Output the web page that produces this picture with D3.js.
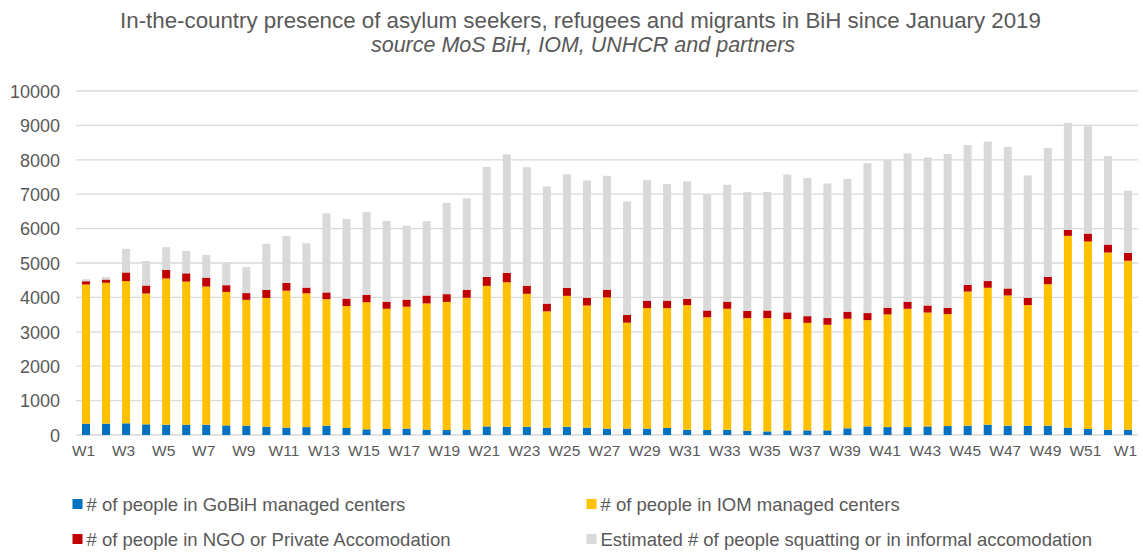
<!DOCTYPE html>
<html><head><meta charset="utf-8">
<script src="https://cdn.jsdelivr.net/npm/d3@7"></script>
<style>body{margin:0;background:#fff;} text{font-family:"Liberation Sans",Arial,sans-serif;}</style>
</head><body><svg id="c" width="1143" height="552"></svg>
<script>
const weeks = ["W1","W2","W3","W4","W5","W6","W7","W8","W9","W10","W11","W12","W13","W14","W15","W16","W17","W18","W19","W20","W21","W22","W23","W24","W25","W26","W27","W28","W29","W30","W31","W32","W33","W34","W35","W36","W37","W38","W39","W40","W41","W42","W43","W44","W45","W46","W47","W48","W49","W50","W51","W52","W1"];
const gobih = [330,330,340,310,300,300,300,280,270,240,215,230,270,205,165,175,185,155,145,155,250,240,240,215,240,215,185,185,185,205,155,145,155,125,105,135,135,135,195,250,230,230,250,260,270,300,270,270,270,215,175,155,155];
const iom = [4045,4095,4135,3805,4250,4160,4015,3880,3660,3745,3980,3890,3680,3545,3695,3495,3545,3670,3725,3835,4085,4200,3865,3380,3805,3550,3815,3080,3505,3485,3620,3280,3515,3275,3295,3235,3125,3070,3185,3090,3275,3440,3310,3255,3900,3980,3785,3505,4115,5575,5450,5150,4910];
const ngo = [95,95,250,230,250,240,260,195,195,230,225,165,195,215,215,205,205,230,225,230,260,270,235,225,235,225,225,225,215,215,185,195,205,205,220,195,195,195,205,205,195,205,205,185,195,195,205,215,215,175,230,230,230];
const informal = [60,70,685,715,660,650,660,660,755,1345,1365,1290,2300,2310,2410,2350,2150,2160,2650,2660,3195,3445,3445,3405,3300,3410,3310,3300,3505,3390,3415,3380,3400,3455,3445,4005,4015,3910,3860,4355,4300,4310,4300,4470,4065,4055,4115,3555,3745,3105,3120,2575,1810];
const seriesNames = ["# of people in GoBiH managed centers","# of people in IOM managed centers","# of people in NGO or Private Accomodation","Estimated # of people squatting or in informal accomodation"];
const seriesColors = ["#0070C0","#FFC000","#C00000","#D9D9D9"];
const yTicks = [0,1000,2000,3000,4000,5000,6000,7000,8000,9000,10000];

const svg = d3.select("#c");
const rows = weeks.map((w,i)=>({i, w, gobih:gobih[i], iom:iom[i], ngo:ngo[i], informal:informal[i]}));
const keys = ["gobih","iom","ngo","informal"];
const stack = d3.stack().keys(keys)(rows);

const x = d3.scaleBand().domain(rows.map(d=>d.i)).range([76,1138]).paddingInner(0.6).paddingOuter(0.3);
const y = d3.scaleLinear().domain([0,10000]).range([435,91]);

// gridlines
svg.append("g").selectAll("line").data(yTicks).join("line")
  .attr("x1",76).attr("x2",1138).attr("y1",d=>y(d)).attr("y2",d=>y(d))
  .attr("stroke","#D9D9D9").attr("stroke-width",1.3);

// y axis labels
const yAxis = d3.axisLeft(y).tickValues(yTicks).tickSize(0).tickPadding(0).tickFormat(d3.format("d"));
const ya = svg.append("g").attr("transform","translate(60,0)").call(yAxis);
ya.select(".domain").remove();
ya.selectAll("text").attr("font-size",18).attr("fill","#595959").attr("dy","0.35em").attr("font-family","Liberation Sans, Arial, sans-serif");

// bars
svg.append("g").selectAll("g").data(stack).join("g")
  .attr("fill",(d,k)=>seriesColors[k])
  .selectAll("rect").data(d=>d).join("rect")
  .attr("x",d=>x(d.data.i)).attr("width",x.bandwidth())
  .attr("y",d=>y(d[1])).attr("height",d=>y(d[0])-y(d[1]));

// x axis labels
const xAxis = d3.axisBottom(x).tickSize(0).tickPadding(0)
  .tickValues(rows.filter(d=>d.i%2===0).map(d=>d.i))
  .tickFormat(i=>weeks[i]);
const xa = svg.append("g").attr("transform","translate(-2.5,445)").call(xAxis);
xa.select(".domain").remove();
xa.selectAll("text").attr("font-size",15.5).attr("fill","#595959").attr("dy","0.71em").attr("font-family","Liberation Sans, Arial, sans-serif");

// title
svg.append("text").attr("x",580.5).attr("y",28).attr("text-anchor","middle")
  .attr("font-size",22.3).attr("fill","#595959").text("In-the-country presence of asylum seekers, refugees and migrants in BiH since January 2019");
svg.append("text").attr("x",583).attr("y",52).attr("text-anchor","middle")
  .attr("font-size",21.5).attr("font-style","italic").attr("fill","#595959").text("source MoS BiH, IOM, UNHCR and partners");

// legend
const legPos = [[72.5,504],[586.5,504],[72.5,539],[586.5,539]];
const lg = svg.append("g").selectAll("g").data(seriesNames).join("g")
  .attr("transform",(d,k)=>`translate(${legPos[k][0]},${legPos[k][1]})`);
lg.append("rect").attr("x",0).attr("y",-5).attr("width",10).attr("height",10).attr("fill",(d,k)=>seriesColors[k]);
lg.append("text").attr("x",14).attr("y",6.5).attr("font-size",18.5).attr("fill","#595959").text(d=>d);
</script>
</body></html>
